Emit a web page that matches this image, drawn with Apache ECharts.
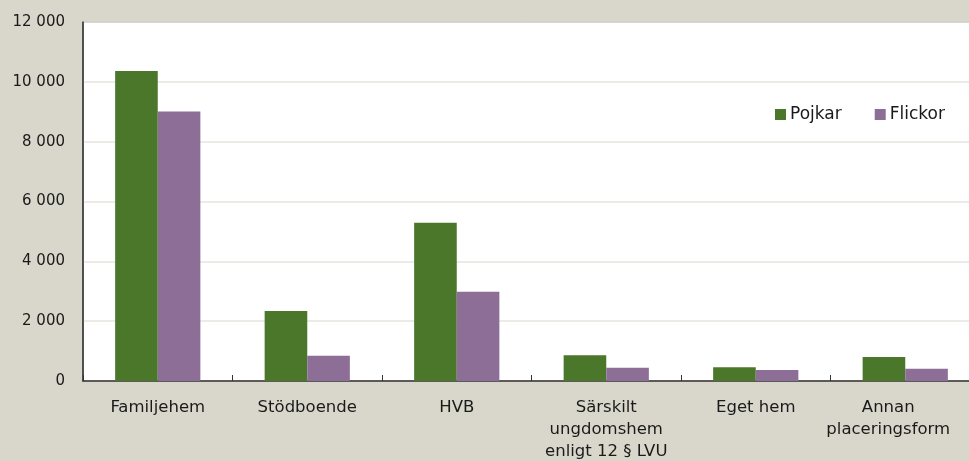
<!DOCTYPE html>
<html><head><meta charset="utf-8">
<script src="https://cdn.jsdelivr.net/npm/echarts@6/dist/echarts.min.js"></script>
<style>html,body{margin:0;padding:0;background:#d9d7cb;}#c{width:969px;height:461px;}</style>
</head><body><div id="c"></div>
<script>
const categories = ["Familjehem", "Stödboende", "HVB", "Särskilt\nungdomshem\nenligt 12 § LVU", "Eget hem", "Annan\nplaceringsform"];
const seriesNames = ["Pojkar", "Flickor"];
const pojkar = [10360, 2340, 5290, 860, 460, 800];
const flickor = [9010, 840, 2980, 440, 370, 410];
const yTicks = [0, 2000, 4000, 6000, 8000, 10000, 12000];

const font = "'DejaVu Sans', sans-serif";
// last label nudged left so it stays inside the picture, as in the original
const catData = categories.map((c, i) => i === categories.length - 1
  ? {value: c, textStyle: {padding: [0, 34, 0, 0]}} : c);

const chart = echarts.init(document.getElementById('c'), null, {renderer: 'canvas'});
chart.setOption({
  backgroundColor: '#d9d7cb',
  animation: false,
  textStyle: {fontFamily: font},
  grid: {left: 83, width: 897, top: 22, height: 359, outerBoundsMode: 'none', containLabel: false,
         show: true, backgroundColor: '#ffffff', borderColor: '#5e5e58', borderWidth: 1},
  legend: {
    data: seriesNames, left: 775, top: 106, padding: 0, itemWidth: 11, itemHeight: 11, itemGap: 33,
    icon: 'rect', textStyle: {fontSize: 17, color: '#1a1a1a', fontFamily: font, padding: [0, 0, 0, -1]}
  },
  xAxis: {
    type: 'category', data: catData,
    axisLine: {lineStyle: {color: '#333', width: 1.5}},
    axisTick: {show: true, inside: true, length: 6, lineStyle: {color: '#333'}},
    axisLabel: {fontSize: 16.5, color: '#1a1a1a', margin: 16, lineHeight: 22, fontFamily: font, interval: 0}
  },
  yAxis: {
    type: 'value', min: yTicks[0], max: yTicks[yTicks.length - 1], interval: 2000,
    axisLine: {show: true, lineStyle: {color: '#333', width: 1.5}},
    axisTick: {show: false},
    splitLine: {lineStyle: {color: '#e6e4dc', width: 1.5}},
    axisLabel: {fontSize: 15, color: '#1a1a1a', margin: 18, fontFamily: font,
      formatter: v => String(v).replace(/\B(?=(\d{3})+(?!\d))/g, ' ')}
  },
  series: [
    {name: seriesNames[0], type: 'bar', data: pojkar, barGap: '0%', barCategoryGap: '43%',
     itemStyle: {color: '#4a772a'}},
    {name: seriesNames[1], type: 'bar', data: flickor, barGap: '0%', barCategoryGap: '43%',
     itemStyle: {color: '#8d6e97'}}
  ]
});
</script></body></html>
